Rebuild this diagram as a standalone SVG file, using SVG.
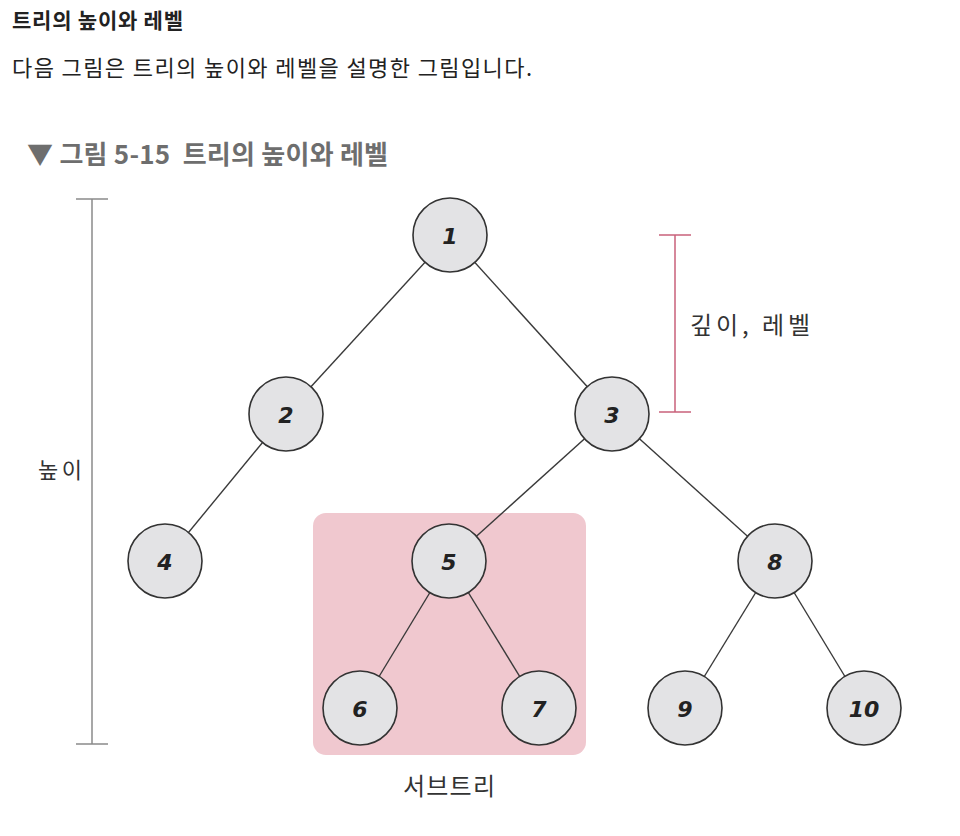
<svg xmlns="http://www.w3.org/2000/svg" width="960" height="836" viewBox="0 0 960 836">
<style>
.kr{font-family:"Noto Sans CJK KR","Noto Sans",sans-serif}
.title{font-size:21px;font-weight:700;fill:#222}
.body{font-size:22px;fill:#222}
.cap{font-size:26px;font-weight:700;fill:#6e6e6e}
.lbl{font-size:22px;fill:#333}
.lbl2{font-size:24px;fill:#333}
.edge{stroke:#3a3a3a;stroke-width:1.4;fill:none}
.node circle{fill:#e3e3e5;stroke:#333;stroke-width:1.6}
.node text{font-family:"DejaVu Sans",sans-serif;font-size:22px;font-weight:700;font-style:italic;fill:#222;text-anchor:middle;dominant-baseline:central}
</style>
<rect width="960" height="836" fill="#fff"/>
<text class="kr title" x="12" y="28" textLength="171" lengthAdjust="spacing">트리의 높이와 레벨</text>
<text class="kr body" x="12" y="76" textLength="520" lengthAdjust="spacing">다음 그림은 트리의 높이와 레벨을 설명한 그림입니다.</text>
<text class="kr cap" x="27" y="164" textLength="361" lengthAdjust="spacing" xml:space="preserve">▼ 그림 5-15  트리의 높이와 레벨</text>

<g id="height-bracket" stroke="#8a8a8a" stroke-width="1.5">
<line x1="92" y1="199" x2="92" y2="744"/>
<line x1="76" y1="199" x2="108" y2="199"/>
<line x1="76" y1="744" x2="108" y2="744"/>
</g>
<text class="kr lbl" x="38" y="478" textLength="44" lengthAdjust="spacing">높이</text>

<g id="depth-bracket" stroke="#c8607a" stroke-width="1.5">
<line x1="675" y1="235" x2="675" y2="412"/>
<line x1="659" y1="235" x2="691" y2="235"/>
<line x1="659" y1="412" x2="691" y2="412"/>
</g>
<text class="kr lbl2" x="690" y="334" textLength="120" lengthAdjust="spacing">깊이, 레벨</text>

<rect id="subtree" x="313" y="513" width="273" height="242" rx="13" fill="#f0c8cf"/>
<text class="kr lbl2" x="403" y="795" textLength="92" lengthAdjust="spacing">서브트리</text>

<g id="connectors">
<line class="edge" x1="450" y1="235" x2="286" y2="414"/>
<line class="edge" x1="450" y1="235" x2="612" y2="414"/>
<line class="edge" x1="286" y1="414" x2="165" y2="561"/>
<line class="edge" x1="612" y1="414" x2="449" y2="561"/>
<line class="edge" x1="612" y1="414" x2="775" y2="561"/>
<line class="edge" x1="449" y1="561" x2="360" y2="708"/>
<line class="edge" x1="449" y1="561" x2="539" y2="708"/>
<line class="edge" x1="775" y1="561" x2="685" y2="708"/>
<line class="edge" x1="775" y1="561" x2="864" y2="708"/>
</g>

<g id="n1" class="node"><circle cx="450" cy="235" r="37"/><text x="450" y="236">1</text></g>
<g id="n2" class="node"><circle cx="286" cy="414" r="37"/><text x="286" y="415">2</text></g>
<g id="n3" class="node"><circle cx="612" cy="414" r="37"/><text x="612" y="415">3</text></g>
<g id="n4" class="node"><circle cx="165" cy="561" r="37"/><text x="165" y="562">4</text></g>
<g id="n5" class="node"><circle cx="449" cy="561" r="37"/><text x="449" y="562">5</text></g>
<g id="n8" class="node"><circle cx="775" cy="561" r="37"/><text x="775" y="562">8</text></g>
<g id="n6" class="node"><circle cx="360" cy="708" r="37"/><text x="360" y="709">6</text></g>
<g id="n7" class="node"><circle cx="539" cy="708" r="37"/><text x="539" y="709">7</text></g>
<g id="n9" class="node"><circle cx="685" cy="708" r="37"/><text x="685" y="709">9</text></g>
<g id="n10" class="node"><circle cx="864" cy="708" r="37"/><text x="864" y="709">10</text></g>
</svg>
